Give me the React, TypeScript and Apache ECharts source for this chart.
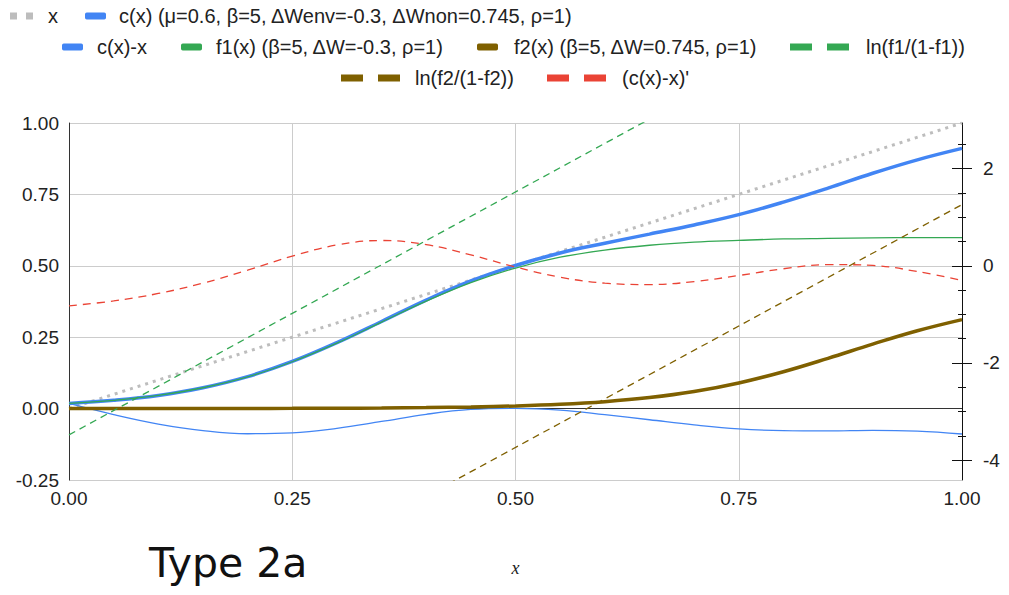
import React, { useEffect, useRef } from 'react';
import * as echarts from 'echarts';

const FONT = '"Liberation Sans", Arial, sans-serif';

const xs = [0, 0.05, 0.1, 0.15, 0.2, 0.25, 0.3, 0.35, 0.4, 0.45, 0.5, 0.55, 0.6, 0.65, 0.7, 0.75, 0.8, 0.85, 0.9, 0.95, 1.0];

const xLineX = [0, 1];
const xLineY = [0, 1];

const cVals = [0.018, 0.029, 0.046, 0.073, 0.112, 0.165, 0.231, 0.305, 0.380, 0.447, 0.501, 0.545, 0.579, 0.611, 0.643, 0.679, 0.723, 0.772, 0.824, 0.871, 0.911];
const cMinusX = [0.018, -0.021, -0.054, -0.077, -0.088, -0.085, -0.069, -0.045, -0.020, -0.003, 0.001, -0.005, -0.021, -0.039, -0.057, -0.071, -0.077, -0.078, -0.076, -0.079, -0.089];
const f1Vals = [0.018, 0.029, 0.046, 0.073, 0.111, 0.164, 0.229, 0.303, 0.376, 0.441, 0.492, 0.530, 0.555, 0.572, 0.583, 0.589, 0.594, 0.596, 0.598, 0.599, 0.599];
const f2Vals = [0.0001, 0.0001, 0.0002, 0.0003, 0.0005, 0.0008, 0.0013, 0.0021, 0.0035, 0.0057, 0.0093, 0.0151, 0.0243, 0.0385, 0.0597, 0.0898, 0.1292, 0.1761, 0.2258, 0.2726, 0.3116];
const derivVals = [-0.825, -0.723, -0.570, -0.357, -0.089, 0.199, 0.429, 0.521, 0.437, 0.225, -0.025, -0.235, -0.358, -0.386, -0.325, -0.200, -0.061, 0.025, 0.007, -0.118, -0.302];

const lnX = [0, 1];
const lnF1 = [-3.48, 6.52];
const lnF2 = [-8.74, 1.26];

const leftTicks = [-0.25, 0, 0.25, 0.5, 0.75, 1.0];
const rightMajor = [-4, -2, 0, 2];
const rightMinor = [-4, -3.5, -3, -2.5, -2, -1.5, -1, -0.5, 0, 0.5, 1, 1.5, 2, 2.5];
const bottomTicks = [0, 0.25, 0.5, 0.75, 1.0];

const N_X = 'x';
const N_C = 'c(x) (μ=0.6, β=5, ΔWenv=-0.3, ΔWnon=0.745, ρ=1)';
const N_CX = 'c(x)-x';
const N_F1 = 'f1(x) (β=5, ΔW=-0.3, ρ=1)';
const N_F2 = 'f2(x) (β=5, ΔW=0.745, ρ=1)';
const N_L1 = 'ln(f1/(1-f1))';
const N_L2 = 'ln(f2/(1-f2))';
const N_D = "(c(x)-x)'";

const BLUE = '#4285f4';
const GREEN = '#34a853';
const BROWN = '#7f6000';
const RED = '#ea4335';
const GRAY = '#bdbdbd';

const pairs = (a: number[], b: number[]) => a.map((v, i) => [v, b[i]]);

const DOTS = 'path://M0,0h7v7h-7z M16,0h7v7h-7z';
const DASH = 'path://M0,0h22v7h-22z M37,0h22v7h-22z';

function lg(name: string, left: number, cy: number, icon: string, w: number, h: number, pad: number) {
  return {
    show: true,
    data: [name],
    left,
    top: cy - 10,
    padding: 0,
    icon,
    itemWidth: w,
    itemHeight: h,
    selectedMode: false,
    itemStyle: { borderWidth: 0 },
    textStyle: { fontSize: 20, color: '#222', fontFamily: FONT, padding: [0, 0, 0, pad], lineHeight: 20 },
  };
}

export default function App() {
  const ref = useRef<HTMLDivElement>(null);
  useEffect(() => {
    const chart = echarts.init(ref.current!, null, { renderer: 'svg' });
    const axisLabelStyle = { fontSize: 19, color: '#222', fontFamily: FONT };
    const option: any = {
      animation: false,
      backgroundColor: '#fff',
      grid: { left: 69, right: 47, top: 123, bottom: 115, containLabel: false },
      legend: [
        lg(N_X, 10, 16, DOTS, 23, 7, 10),
        lg(N_C, 85, 16, 'roundRect', 21, 7, 8),
        lg(N_CX, 62, 47, 'roundRect', 21, 7, 9),
        lg(N_F1, 181, 47, 'roundRect', 21, 7, 9),
        lg(N_F2, 477, 47, 'roundRect', 21, 7, 11),
        lg(N_L1, 790, 47, DASH, 59, 7, 12),
        lg(N_L2, 341, 78, DASH, 59, 7, 10),
        lg(N_D, 547, 78, DASH, 59, 7, 11),
      ],
      xAxis: {
        type: 'value',
        min: 0,
        max: 1,
        interval: 0.25,
        name: 'x',
        nameLocation: 'middle',
        nameGap: 79,
        nameTextStyle: { fontFamily: '"Liberation Serif", serif', fontStyle: 'italic', fontSize: 18, color: '#222' },
        axisLine: { show: false },
        axisTick: { show: false },
        axisLabel: { ...axisLabelStyle, margin: 9, formatter: (v: number) => v.toFixed(2), customValues: bottomTicks },
        splitLine: { show: true, lineStyle: { color: '#cccccc', width: 1 } },
      },
      yAxis: [
        {
          type: 'value',
          min: -0.25,
          max: 1,
          interval: 0.25,
          axisLine: { show: true, lineStyle: { color: '#333', width: 1 } },
          axisTick: { show: false },
          axisLabel: { ...axisLabelStyle, margin: 10, formatter: (v: number) => v.toFixed(2), customValues: leftTicks },
          splitLine: { show: true, lineStyle: { color: '#cccccc', width: 1 } },
        },
        {
          type: 'value',
          position: 'right',
          min: -4.41,
          max: 2.94,
          axisLine: { show: true, lineStyle: { color: '#111', width: 1 } },
          axisTick: { show: false },
          axisLabel: { ...axisLabelStyle, margin: 21, customValues: rightMajor, formatter: (v: number) => String(v) },
          splitLine: { show: false },
        },
        {
          type: 'value',
          position: 'right',
          offset: 10,
          min: -4.41,
          max: 2.94,
          axisLine: { show: false },
          axisTick: { show: true, inside: true, length: 20, customValues: rightMajor, lineStyle: { color: '#111', width: 1 } },
          axisLabel: { show: false },
          splitLine: { show: false },
        },
        {
          type: 'value',
          position: 'right',
          offset: 4,
          min: -4.41,
          max: 2.94,
          axisLine: { show: false },
          axisTick: { show: true, inside: true, length: 8, customValues: rightMinor, lineStyle: { color: '#111', width: 1 } },
          axisLabel: { show: false },
          splitLine: { show: false },
        },
      ],
      series: [
        {
          name: N_X, type: 'line', yAxisIndex: 0, symbol: 'none', color: GRAY,
          data: pairs(xLineX, xLineY),
          lineStyle: { color: GRAY, width: 3, type: [3, 5] },
          markLine: {
            silent: true, symbol: 'none', z: 1,
            label: { show: false },
            lineStyle: { color: '#333', width: 1, type: 'solid' },
            data: [{ yAxis: 0 }],
          },
        },
        {
          name: N_C, type: 'line', yAxisIndex: 0, symbol: 'none', color: BLUE, smooth: 0.4,
          data: pairs(xs, cVals), lineStyle: { color: BLUE, width: 3.5 },
        },
        {
          name: N_CX, type: 'line', yAxisIndex: 0, symbol: 'none', color: BLUE, smooth: 0.4,
          data: pairs(xs, cMinusX), lineStyle: { color: BLUE, width: 1.3 },
        },
        {
          name: N_F1, type: 'line', yAxisIndex: 0, symbol: 'none', color: GREEN, smooth: 0.4,
          data: pairs(xs, f1Vals), lineStyle: { color: GREEN, width: 1.3 },
        },
        {
          name: N_F2, type: 'line', yAxisIndex: 0, symbol: 'none', color: BROWN, smooth: 0.4,
          data: pairs(xs, f2Vals), lineStyle: { color: BROWN, width: 3.5 },
        },
        {
          name: N_L1, type: 'line', yAxisIndex: 1, symbol: 'none', color: GREEN,
          data: pairs(lnX, lnF1), lineStyle: { color: GREEN, width: 1.3, type: [7, 5] },
        },
        {
          name: N_L2, type: 'line', yAxisIndex: 1, symbol: 'none', color: BROWN,
          data: pairs(lnX, lnF2), lineStyle: { color: BROWN, width: 1.3, type: [7, 5] },
        },
        {
          name: N_D, type: 'line', yAxisIndex: 1, symbol: 'none', color: RED, smooth: 0.4,
          data: pairs(xs, derivVals), lineStyle: { color: RED, width: 1.3, type: [8, 6] },
        },
      ],
      graphic: [
        {
          type: 'text',
          left: 149,
          top: 542,
          style: { text: 'Type 2a', fontFamily: '"DejaVu Sans", Verdana, sans-serif', fontSize: 41, fill: '#111' },
        },
      ],
    };
    chart.setOption(option);
    return () => chart.dispose();
  }, []);
  return <div ref={ref} style={{ position: 'absolute', left: 0, top: 0, width: 1009, height: 595 }} />;
}
